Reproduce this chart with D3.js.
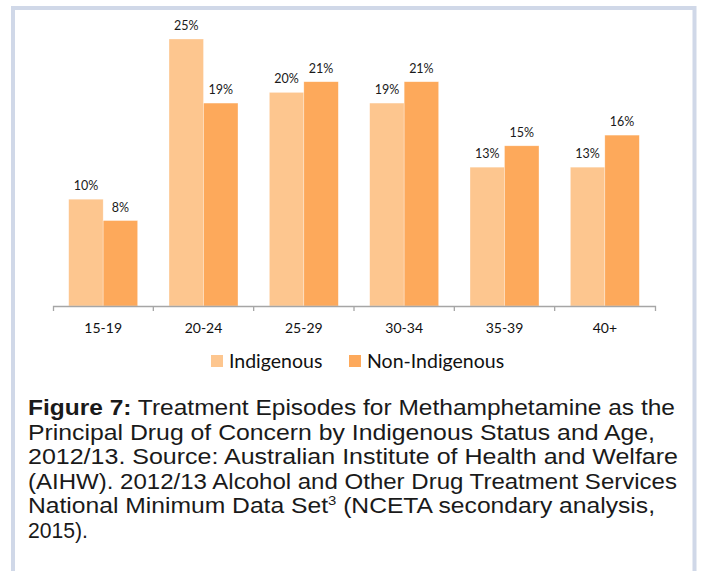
<!DOCTYPE html>
<html>
<head>
<meta charset="utf-8">
<script src="https://cdn.jsdelivr.net/npm/d3@7"></script>
<style>
  body { margin: 0; background: #fff; }
  svg { display: block; }
</style>
</head>
<body>
<svg id="chart"></svg>
<script>
// Data
const ageGroups = ['15-19', '20-24', '25-29', '30-34', '35-39', '40+'];
const seriesNames = ['Indigenous', 'Non-Indigenous'];
const indigenous = [10, 25, 20, 19, 13, 13];
const nonIndigenous = [8, 19, 21, 21, 15, 16];
const captionLines = [
  ['Figure 7:', ' Treatment Episodes for Methamphetamine as the'],
  ['', 'Principal Drug of Concern by Indigenous Status and Age,'],
  ['', '2012/13. Source: Australian Institute of Health and Welfare'],
  ['', '(AIHW). 2012/13 Alcohol and Other Drug Treatment Services'],
  ['', 'National Minimum Data Set', '3', ' (NCETA secondary analysis,'],
  ['', '2015).']
];
// measured line widths of the printed caption
const captionWidths = [647, 627, 650, 649, 627, 60];

const width = 702, height = 571;
const colors = { 'Indigenous': '#fdc68f', 'Non-Indigenous': '#fda95b' };

const svg = d3.select('#chart')
  .attr('width', width)
  .attr('height', height);

// light frame round the figure
svg.append('path')
  .attr('d', `M13,${height}V8H694.5V${height}`)
  .attr('fill', 'none')
  .attr('stroke', '#d0d8e8')
  .attr('stroke-width', 4);

const plot = { left: 53, right: 655, base: 306, top: 39 };

const data = ageGroups.map((g, i) => ({
  group: g,
  values: [
    { key: 'Indigenous', value: indigenous[i] },
    { key: 'Non-Indigenous', value: nonIndigenous[i] }
  ]
}));

const x0 = d3.scaleBand()
  .domain(ageGroups)
  .range([plot.left, plot.right])
  .padding(0);

const x1 = d3.scaleBand()
  .domain(seriesNames)
  .range([0, x0.bandwidth()])
  .paddingInner(0)
  .paddingOuter(0.455);

const y = d3.scaleLinear()
  .domain([0, 25])
  .range([plot.base, plot.top]);

// bars
const groups = svg.selectAll('g.group')
  .data(data)
  .join('g')
    .attr('class', 'group')
    .attr('transform', d => `translate(${x0(d.group)},0)`);

groups.selectAll('rect')
  .data(d => d.values)
  .join('rect')
    .attr('x', d => x1(d.key))
    .attr('y', d => y(d.value))
    .attr('width', x1.bandwidth())
    .attr('height', d => plot.base - y(d.value))
    .attr('fill', d => colors[d.key])
    .attr('stroke', '#fff')
    .attr('stroke-opacity', 0.5)
    .attr('stroke-width', 0.6);

groups.selectAll('text.val')
  .data(d => d.values)
  .join('text')
    .attr('class', 'val')
    .attr('x', d => x1(d.key) + x1.bandwidth() / 2)
    .attr('y', d => y(d.value) - 9)
    .attr('text-anchor', 'middle')
    .attr('font-family', 'Lato, sans-serif')
    .attr('font-size', 12.5)
    .attr('fill', '#1a1a1a')
    .text(d => d.value + '%');

// x axis, ticks between categories
const xAxis = d3.axisBottom(x0)
  .tickSize(0)
  .tickSizeOuter(5)
  .tickPadding(17);

const xAxisG = svg.append('g')
  .attr('transform', `translate(0,${plot.base})`)
  .call(xAxis);

xAxisG.select('.domain')
  .attr('stroke', '#a6a6a6')
  .attr('stroke-width', 1.3);

xAxisG.selectAll('text')
  .attr('font-family', 'Lato, sans-serif')
  .attr('font-size', 14)
  .attr('fill', '#111');

xAxisG.selectAll('line.sep')
  .data(ageGroups.slice(1))
  .join('line')
    .attr('class', 'sep')
    .attr('x1', d => x0(d))
    .attr('x2', d => x0(d))
    .attr('y1', 0)
    .attr('y2', 5)
    .attr('stroke', '#a6a6a6')
    .attr('stroke-width', 1.3);

// legend
const legendX = [211, 349];
const legend = svg.selectAll('g.legend')
  .data(seriesNames)
  .join('g')
    .attr('class', 'legend')
    .attr('transform', (d, i) => `translate(${legendX[i]},355)`);

legend.append('rect')
  .attr('width', 12)
  .attr('height', 12)
  .attr('fill', d => colors[d]);

legend.append('text')
  .attr('x', 18)
  .attr('y', 12.5)
  .attr('font-family', 'Lato, sans-serif')
  .attr('font-size', 19.5)
  .attr('fill', '#111')
  .text(d => d);

// caption, one text element per printed line
captionLines.forEach((parts, i) => {
  const line = svg.append('text')
    .attr('x', 28)
    .attr('y', 415 + i * 24.6)
    .attr('font-family', '"Liberation Sans", Arial, sans-serif')
    .attr('font-size', 21.5)
    .attr('fill', '#1a1a1a')
    .attr('textLength', captionWidths[i])
    .attr('lengthAdjust', 'spacingAndGlyphs');
  if (parts[0]) {
    line.append('tspan').attr('font-weight', 'bold').text(parts[0]);
  }
  line.append('tspan').text(parts[1]);
  if (parts.length > 2) {
    line.append('tspan')
      .attr('font-size', 13)
      .attr('dy', -8)
      .text(parts[2]);
    line.append('tspan')
      .attr('dy', 8)
      .text(parts[3]);
  }
});
</script>
</body>
</html>
